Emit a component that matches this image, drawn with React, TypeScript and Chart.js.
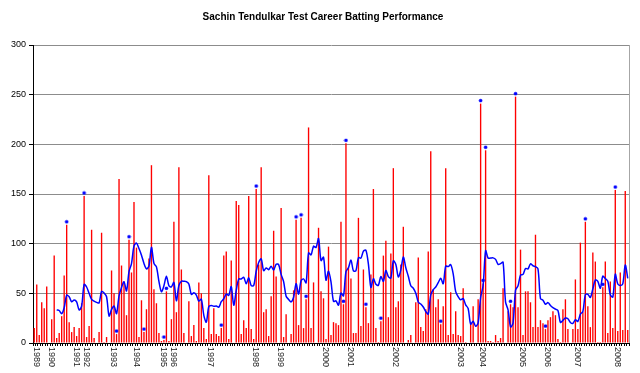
import React, { useEffect, useRef } from 'react';
import { Chart, registerables } from 'chart.js';

Chart.register(...registerables);

const TITLE = 'Sachin Tendulkar Test Career Batting Performance';

// Runs scored in each Test innings, in career order (1989 - Jan 2008)
const scores: number[] = [
  15, 59, 8, 41, 35, 57, 0, 24, 88, 5,
  10, 27, 68, 119, 21, 11, 16, 7, 15, 40,
  148, 6, 17, 114, 5, 0, 11, 111, 1, 6,
  0, 73, 50, 9, 165, 78, 62, 28, 104, 71,
  142, 96, 6, 43, 11, 34, 85, 179, 54, 40,
  10, 2, 3, 52, 2, 24, 122, 31, 177, 74,
  10, 0, 42, 7, 18, 2, 61, 50, 15, 4,
  169, 9, 35, 9, 7, 15, 88, 92, 4, 83,
  0, 143, 139, 9, 23, 15, 148, 14, 4, 155,
  79, 177, 31, 34, 7, 47, 113, 67, 0, 136,
  6, 29, 0, 9, 53, 124, 18, 126, 15, 44,
  217, 15, 61, 0, 116, 52, 45, 4, 97, 8,
  21, 20, 18, 122, 39, 201, 76, 65, 10, 10,
  126, 17, 74, 36, 20, 69, 155, 15, 1, 22,
  88, 103, 26, 90, 176, 36, 42, 79, 117, 0,
  3, 8, 0, 41, 86, 16, 12, 34, 92, 193,
  54, 36, 44, 19, 37, 176, 8, 51, 9, 32,
  8, 7, 55, 1, 0, 19, 37, 0, 44, 241,
  60, 194, 2, 2, 1, 8, 2, 5, 55, 0,
  32, 39, 36, 248, 36, 94, 8, 52, 52, 41,
  16, 109, 16, 23, 20, 14, 23, 26, 32, 28,
  4, 1, 34, 44, 14, 0, 14, 64, 14, 101,
  31, 122, 37, 16, 91, 82, 1, 1, 56, 82,
  10, 62, 15, 154, 12, 71, 13, 153, 13,
];

// Innings (positions in scores) in which he was not out
const notOutInnings: number[] = [
  13, 20, 33, 38, 44, 52, 53, 75, 89, 105, 107, 109, 124, 125, 133, 139,
  163, 179, 180, 181, 191, 193, 205, 221, 228, 233,
];

// Year labels and the innings each year starts at
const yearLabels: string[] = [
  '1989', '1990', '1991', '1992', '1993', '1994', '1995', '1996', '1997', '1998',
  '1999', '2000', '2001', '2002', '2003', '2004', '2005', '2006', '2007', '2008',
];
const yearFirstInnings: number[] = [
  0, 6, 16, 20, 31, 40, 51, 55, 70, 88,
  98, 116, 126, 144, 170, 179, 195, 205, 217, 233,
];

const yMin = 0;
const yMax = 300;
const yStep = 50;
const averageWindow = 10; // innings in the rolling batting average

function rollingAverage(runs: number[], notOut: Set<number>, n: number): (number | null)[] {
  return runs.map((_, i) => {
    if (i < n - 1) return null;
    let sum = 0;
    let outs = 0;
    for (let k = i - n + 1; k <= i; k++) {
      sum += runs[k];
      if (!notOut.has(k)) outs++;
    }
    return outs > 0 ? sum / outs : sum;
  });
}

const FONT = '"Liberation Sans", Arial, sans-serif';

function makeDotMarker(): HTMLCanvasElement {
  // a small blue dot that sits just above the top of its bar
  const c = document.createElement('canvas');
  c.width = 5;
  c.height = 11;
  const g = c.getContext('2d')!;
  g.fillStyle = '#0000ff';
  g.beginPath();
  g.arc(2.5, 2.5, 1.8, 0, Math.PI * 2);
  g.fill();
  return c;
}

export default function App() {
  const ref = useRef<HTMLCanvasElement | null>(null);

  useEffect(() => {
    if (!ref.current) return;
    const notOutSet = new Set(notOutInnings);
    const labels = scores.map((_, i) => String(i + 1));
    const avg = rollingAverage(scores, notOutSet, averageWindow);
    const dots = scores.map((v, i) => (notOutSet.has(i) ? v : null));
    const marker = makeDotMarker();

    const overlay = {
      id: 'overlay',
      afterDraw(chart: any) {
        const ctx = chart.ctx;
        const area = chart.chartArea;
        const xs = chart.scales.x;
        ctx.save();
        // title
        ctx.fillStyle = '#000';
        ctx.font = `bold 10px ${FONT}`;
        ctx.textAlign = 'center';
        ctx.textBaseline = 'middle';
        ctx.fillText(TITLE, chart.width / 2 + 3, 17);
        // right border of plot
        ctx.strokeStyle = '#a6a6a6';
        ctx.lineWidth = 1;
        ctx.beginPath();
        ctx.moveTo(Math.round(area.right) + 0.5, area.top);
        ctx.lineTo(Math.round(area.right) + 0.5, area.bottom);
        ctx.stroke();
        // year labels, rotated clockwise
        ctx.font = `9px ${FONT}`;
        ctx.fillStyle = '#222';
        ctx.textAlign = 'left';
        ctx.textBaseline = 'middle';
        yearLabels.forEach((lab, k) => {
          const x = xs.getPixelForValue(yearFirstInnings[k]);
          ctx.save();
          ctx.translate(x + 2, area.bottom + 4);
          ctx.rotate(Math.PI / 2);
          ctx.fillText(lab, 0, 0);
          ctx.restore();
        });
        ctx.restore();
      },
    };

    const chart = new Chart(ref.current, {
      type: 'bar',
      data: {
        labels,
        datasets: [
          {
            type: 'bar',
            label: 'Runs',
            data: scores,
            backgroundColor: '#ff0000',
            borderWidth: 0,
            barPercentage: 0.55,
            categoryPercentage: 1,
            order: 3,
          },
          {
            type: 'line',
            label: 'Rolling average',
            data: avg,
            borderColor: '#0000ff',
            borderWidth: 1.5,
            pointRadius: 0,
            tension: 0.3,
            fill: false,
            spanGaps: false,
            order: 2,
          },
          {
            type: 'line',
            label: 'Not out',
            data: dots,
            showLine: false,
            pointStyle: marker,
            pointRadius: 3,
            order: 1,
          },
        ] as any,
      },
      options: {
        responsive: false,
        animation: false,
        devicePixelRatio: 1,
        layout: { padding: { top: 45, right: 11, left: 0, bottom: 0 } },
        plugins: {
          legend: { display: false },
          title: { display: false },
          tooltip: { enabled: false },
        },
        scales: {
          x: {
            type: 'category',
            offset: true,
            ticks: { display: false },
            grid: {
              display: true,
              drawOnChartArea: false,
              drawTicks: true,
              tickLength: 3,
              tickColor: '#000',
              offset: true,
            },
            border: { display: true, color: '#000', width: 1 },
            afterFit: (s: any) => {
              s.height = 30;
            },
          },
          y: {
            min: yMin,
            max: yMax,
            ticks: {
              stepSize: yStep,
              color: '#000',
              font: { family: FONT, size: 9 },
              padding: 3,
            },
            grid: {
              color: '#8c8c8c',
              tickColor: '#000',
              tickLength: 4,
            },
            border: { display: true, color: '#000', width: 1 },
            afterFit: (s: any) => {
              s.width = 33;
            },
          },
        },
      } as any,
      plugins: [overlay],
    });
    return () => chart.destroy();
  }, []);

  return (
    <div style={{ position: 'absolute', left: 0, top: 0, width: 640, height: 373, background: '#fff' }}>
      <canvas ref={ref} width={640} height={373} />
    </div>
  );
}
